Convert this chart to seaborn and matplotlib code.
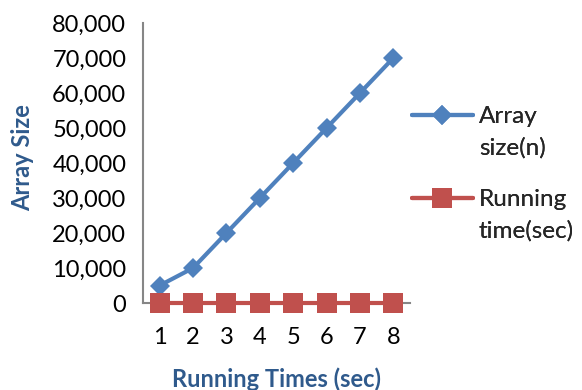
import matplotlib
matplotlib.use("Agg")
import matplotlib.pyplot as plt
import seaborn as sns
import pandas as pd
from matplotlib.ticker import FuncFormatter, FixedLocator
from matplotlib.lines import Line2D

categories = [1, 2, 3, 4, 5, 6, 7, 8]
array_size = [5000, 10000, 20000, 30000, 40000, 50000, 60000, 70000]
running_time = [0, 0, 0, 0, 0, 0, 0, 0]
series_names = ["Array size(n)", "Running time(sec)"]
legend_lines = [["Array", "size(n)"], ["Running", "time(sec)"]]

df = pd.DataFrame({
    "x": categories * 2,
    "y": array_size + running_time,
    "series": [series_names[0]] * 8 + [series_names[1]] * 8,
})

sns.set_theme(style="white")
plt.rcParams['font.family'] = ['Lato', 'DejaVu Sans']

fig = plt.figure(figsize=(5.82, 3.90), dpi=100)
ax = fig.add_axes([143/582, 1 - 303/390, (410-143)/582, (303-23)/390])

blue = "#4F81BD"
red = "#C0504D"
sns.lineplot(data=df, x="x", y="y", hue="series", style="series",
             palette=[blue, red], markers=["D", "s"], dashes=False,
             linewidth=3, markersize=10, markeredgewidth=0, ax=ax, legend=True)
for line in ax.get_lines():
    line.set_clip_on(False)
    line.set_zorder(5)
    if line.get_marker() == "s":
        line.set_markersize(15)

ax.set_xlim(0.5, 8.5)
ax.set_ylim(0, 80000)
ax.set_xticks(categories)
ax.set_xticklabels([str(c) for c in categories])
ax.xaxis.set_minor_locator(FixedLocator([c - 0.5 for c in categories] + [8.5]))
ax.set_yticks(range(0, 80001, 10000))
ax.yaxis.set_major_formatter(FuncFormatter(lambda v, p: f"{int(v):,}"))

gray = "#868686"
for s in ["top", "right"]:
    ax.spines[s].set_visible(False)
for s in ["left", "bottom"]:
    ax.spines[s].set_color(gray)
    ax.spines[s].set_linewidth(1.5)
ax.tick_params(axis="x", which="major", length=0, pad=17, labelsize=17, labelcolor="black")
ax.tick_params(axis="x", which="minor", length=7, width=1.5, color=gray, direction="out")
ax.tick_params(axis="y", which="major", length=7, width=1.5, color=gray, direction="out",
               labelsize=17, labelcolor="black", pad=5)

lab_color = "#2F5A8C"
ax.set_xlabel("Running Times (sec)", fontsize=17, fontweight="bold", color=lab_color, labelpad=14)
ax.set_ylabel("Array Size", fontsize=17, fontweight="bold", color=lab_color)
ax.yaxis.set_label_coords(34/582, 1 - 158/390, transform=fig.transFigure)

handles, labels = ax.get_legend_handles_labels()
ax.get_legend().remove()
blank = Line2D([], [], linestyle="none", marker=None)
tops = [106, 189]
for h, lines, top in zip(handles, legend_lines, tops):
    leg = fig.legend([h, blank], lines, loc="upper left",
                     bbox_to_anchor=(412/582, 1 - top/390), frameon=False,
                     fontsize=17.5, handlelength=2.5, handletextpad=0.25,
                     labelspacing=0.42, borderpad=0, borderaxespad=0)
    for lh in leg.legend_handles:
        if isinstance(lh, Line2D):
            lh.set_linewidth(3)
    fig.add_artist(leg)

fig.savefig("out.png", dpi=100)
